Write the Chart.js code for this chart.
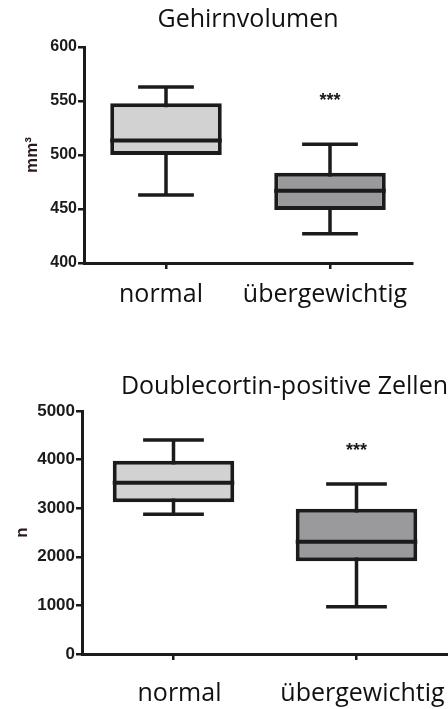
<!DOCTYPE html>
<html><head><meta charset="utf-8">
<script src="https://cdn.jsdelivr.net/npm/chart.js@4.4.1/dist/chart.umd.min.js"></script>
<style>
html,body{margin:0;padding:0;background:#fff;}
#wrap{position:relative;width:448px;height:709px;overflow:hidden;}
canvas{position:absolute;left:0;}
</style></head><body>
<div id="wrap">
<canvas id="c1" width="448" height="330" style="top:0"></canvas>
<canvas id="c2" width="448" height="379" style="top:330px"></canvas>
</div>
<script>
// ---- data ----
const categories = ['normal', 'übergewichtig'];

// Gehirnvolumen (mm³)
const volMin    = [463, 427];
const volQ1     = [500, 449];
const volMedian = [513.5, 467];
const volQ3     = [548, 483.5];
const volMax    = [563, 510];
const volSig    = [null, 554];
const volTicks  = [400, 450, 500, 550, 600];

// Doublecortin-positive Zellen (n)
const dcxMin    = [2874, 974];
const dcxQ1     = [3120, 1910];
const dcxMedian = [3525, 2311];
const dcxQ3     = [3975, 2990];
const dcxMax    = [4403, 3500];
const dcxSig    = [null, 4260];
const dcxTicks  = [0, 1000, 2000, 3000, 4000, 5000];

const boxFill = ['#d2d2d2', '#9a9a9d'];
const INK = '#1c1a1b';

function boxPlugin(stats) {
  return {
    id: 'boxExtras',
    beforeDatasetsDraw(chart) {
      const {ctx, scales: {x, y}} = chart;
      const meta = chart.getDatasetMeta(0);
      ctx.save();
      ctx.strokeStyle = INK; ctx.lineWidth = 3.5; ctx.lineCap = 'butt';
      stats.min.forEach((v, i) => {
        const bar = meta.data[i];
        const cx = x.getPixelForValue(i);
        const half = bar.width * 0.25;
        const yMin = y.getPixelForValue(v), yMax = y.getPixelForValue(stats.max[i]);
        ctx.beginPath();
        ctx.moveTo(cx, yMin); ctx.lineTo(cx, yMax);
        ctx.moveTo(cx - half, yMin); ctx.lineTo(cx + half, yMin);
        ctx.moveTo(cx - half, yMax); ctx.lineTo(cx + half, yMax);
        ctx.stroke();
      });
      ctx.restore();
    },
    afterDatasetsDraw(chart) {
      const {ctx, scales: {x, y}} = chart;
      const meta = chart.getDatasetMeta(0);
      ctx.save();
      ctx.strokeStyle = INK; ctx.lineWidth = 4;
      stats.median.forEach((v, i) => {
        const bar = meta.data[i];
        const yy = y.getPixelForValue(v);
        ctx.beginPath();
        ctx.moveTo(bar.x - bar.width / 2, yy); ctx.lineTo(bar.x + bar.width / 2, yy);
        ctx.stroke();
      });
      ctx.fillStyle = INK;
      ctx.font = 'bold 18px "Liberation Sans"';
      ctx.textAlign = 'center'; ctx.textBaseline = 'middle';
      stats.sig.forEach((v, i) => {
        if (v == null) return;
        ctx.fillText('***', x.getPixelForValue(i), y.getPixelForValue(v) + 4);
      });
      ctx.restore();
    }
  };
}

function makeChart(id, cfg) {
  const ticks = cfg.ticks;
  return new Chart(document.getElementById(id), {
    type: 'bar',
    data: {
      labels: categories,
      datasets: [{
        data: cfg.q1.map((v, i) => [v, cfg.q3[i]]),
        backgroundColor: boxFill,
        borderColor: INK,
        borderWidth: 4,
        borderSkipped: false,
        barPercentage: 0.8,
        categoryPercentage: cfg.catPct
      }]
    },
    options: {
      responsive: false,
      animation: false,
      layout: { padding: { left: 0, right: cfg.padRight, top: 0, bottom: 0 } },
      plugins: {
        legend: { display: false },
        tooltip: { enabled: false },
        title: {
          display: true,
          text: cfg.title,
          align: cfg.titleAlign,
          fullSize: cfg.titleFull,
          color: '#111',
          font: { family: '"Open Sans"', size: 25, weight: 'normal', lineHeight: 1.2 },
          padding: { top: cfg.titleTop, bottom: cfg.titleBottom }
        }
      },
      scales: {
        x: {
          grid: { display: true, drawOnChartArea: false, offset: false, color: INK, lineWidth: 2.5, tickLength: 6 },
          border: { display: true, color: INK, width: 3 },
          ticks: { color: '#111', font: { family: '"Open Sans"', size: 25 }, padding: cfg.xPad, labelOffset: cfg.labelOffset,
                   maxRotation: 0, minRotation: 0, autoSkip: false },
          afterFit: s => { s.height = cfg.xHeight; s.paddingLeft = 0; s.paddingRight = 0; }
        },
        y: {
          min: ticks[0], max: ticks[ticks.length - 1],
          ticks: { stepSize: ticks[1] - ticks[0], color: INK, font: { family: '"Liberation Sans"', size: cfg.tickSize, weight: 'bold' }, padding: 1,
                   callback: v => String(v) },
          grid: { display: true, drawOnChartArea: false, color: INK, lineWidth: 2.5, tickLength: 6 },
          border: { display: true, color: INK, width: 3 },
          title: { display: true, text: cfg.yTitle, color: '#2a1a1c', font: { family: '"Liberation Sans"', size: 17, weight: 'bold' }, padding: { top: cfg.yTitlePad, bottom: 0 } },
          afterFit: s => { s.width = cfg.yWidth; }
        }
      }
    },
    plugins: [boxPlugin(cfg)]
  });
}

makeChart('c1', {
  title: 'Gehirnvolumen', titleAlign: 'center', titleFull: false, titleTop: 5, titleBottom: 12,
  yTitle: 'mm³', yTitlePad: 22, yWidth: 84, padRight: 36, xHeight: 67, xPad: 11, labelOffset: -5,
  catPct: 0.85, ticks: volTicks, tickSize: 16,
  min: volMin, q1: volQ1, median: volMedian, q3: volQ3, max: volMax, sig: volSig
});

makeChart('c2', {
  title: 'Doublecortin-positive Zellen', titleAlign: 'end', titleFull: true, titleTop: 42, titleBottom: 9,
  yTitle: 'n', yTitlePad: 12, yWidth: 82, padRight: 0, xHeight: 55, xPad: 19, labelOffset: 6,
  catPct: 0.83, ticks: dcxTicks, tickSize: 17,
  min: dcxMin, q1: dcxQ1, median: dcxMedian, q3: dcxQ3, max: dcxMax, sig: dcxSig
});
</script>
</body></html>
